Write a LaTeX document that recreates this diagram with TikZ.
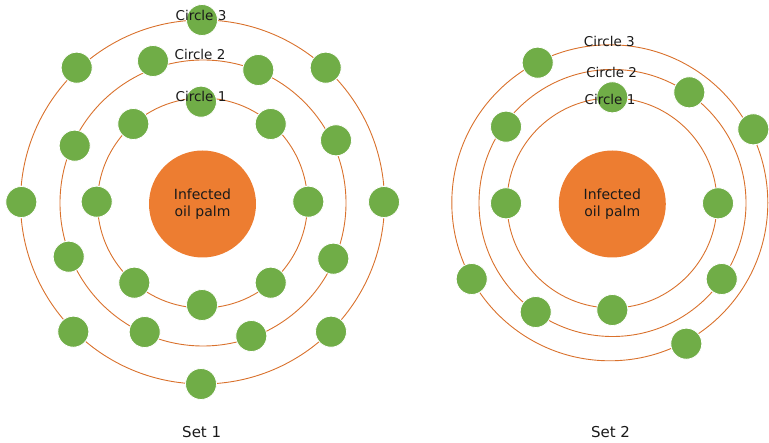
\documentclass[tikz,border=0pt]{standalone}
\usepackage{fontspec}
\setmainfont{DejaVu Sans}
\definecolor{dotgreen}{HTML}{70AD47}
\definecolor{palmorange}{HTML}{ED7D31}
\definecolor{ringorange}{HTML}{D9712C}
\definecolor{txt}{HTML}{1A1A1A}
\begin{document}
\begin{tikzpicture}[x=1pt,y=-1pt,
  ring/.style={circle,draw=ringorange,line width=0.9pt,inner sep=0pt,minimum size=#1},
  dot/.style={circle,fill=dotgreen,draw=white,line width=0.8pt,inner sep=0pt,minimum size=31pt},
  palm/.style={circle,fill=palmorange,inner sep=0pt,minimum size=107pt,text=txt,align=center,font=\fontsize{14}{17.5}\selectfont},
  ringlabel/.style={text=txt,inner sep=0pt,font=\fontsize{13.5}{16}\selectfont},
  setlabel/.style={text=txt,inner sep=0pt,font=\fontsize{15}{18}\selectfont}]
\clip (0,0) rectangle (769,443);
\useasboundingbox (0,0) rectangle (769,443);
% ---------- Set 1 ----------
\node[ring=210pt] (a1) at (202.5,203) {};
\node[ring=286pt] (a2) at (203,203) {};
\node[ring=364pt] (a3) at (202.5,202) {};
\node[palm] (ap) at (202.5,204) {Infected\\oil palm};
% ring 1 dots
\node[dot] (a1d1) at (201,101.7) {};
\node[dot] (a1d2) at (133.3,124) {};
\node[dot] (a1d3) at (270.7,124) {};
\node[dot] (a1d4) at (96.7,201.7) {};
\node[dot] (a1d5) at (308.3,201.7) {};
\node[dot] (a1d6) at (134.3,282.7) {};
\node[dot] (a1d7) at (270.7,282.7) {};
\node[dot] (a1d8) at (202,305) {};
% ring 2 dots
\node[dot] (a2d1) at (153,61) {};
\node[dot] (a2d2) at (258.3,70) {};
\node[dot] (a2d3) at (74.7,145.7) {};
\node[dot] (a2d4) at (336,140.3) {};
\node[dot] (a2d5) at (68.7,256.7) {};
\node[dot] (a2d6) at (333.3,258.7) {};
\node[dot] (a2d7) at (144.7,332) {};
\node[dot] (a2d8) at (251.3,336) {};
% ring 3 dots
\node[dot] (a3d1) at (202,20) {};
\node[dot] (a3d2) at (76.7,67.7) {};
\node[dot] (a3d3) at (325.7,67.7) {};
\node[dot] (a3d4) at (21.3,202) {};
\node[dot] (a3d5) at (384,202) {};
\node[dot] (a3d6) at (73.3,331.7) {};
\node[dot] (a3d7) at (331,331.7) {};
\node[dot] (a3d8) at (201,384) {};
\node[ringlabel] (al3) at (201,15) {Circle 3};
\node[ringlabel] (al2) at (200,54.3) {Circle 2};
\node[ringlabel] (al1) at (201,96.7) {Circle 1};
\node[setlabel] (as) at (201.7,431.7) {Set 1};
% ---------- Set 2 ----------
\node[ring=210pt] (b1) at (612,203) {};
\node[ring=267pt] (b2) at (612.5,203) {};
\node[ring=316pt] (b3) at (609.8,202.8) {};
\node[palm] (bp) at (612.3,204) {Infected\\oil palm};
\node[dot] (b3d1) at (537.7,62.7) {};
\node[dot] (b1d1) at (612.3,97.3) {};
\node[dot] (b2d1) at (689.3,92.3) {};
\node[dot] (b2d2) at (506,126.7) {};
\node[dot] (b3d2) at (753.3,129.3) {};
\node[dot] (b1d2) at (506,203.3) {};
\node[dot] (b1d3) at (718,203.3) {};
\node[dot] (b3d3) at (471.7,279) {};
\node[dot] (b2d3) at (721.7,279) {};
\node[dot] (b2d4) at (535.7,312) {};
\node[dot] (b1d4) at (612.3,310) {};
\node[dot] (b3d4) at (686.3,343.7) {};
\node[ringlabel] (bl3) at (609.3,41.7) {Circle 3};
\node[ringlabel] (bl2) at (611.7,72.3) {Circle 2};
\node[ringlabel] (bl1) at (610,99.3) {Circle 1};
\node[setlabel] (bs) at (610.5,431.7) {Set 2};
\end{tikzpicture}
\end{document}
